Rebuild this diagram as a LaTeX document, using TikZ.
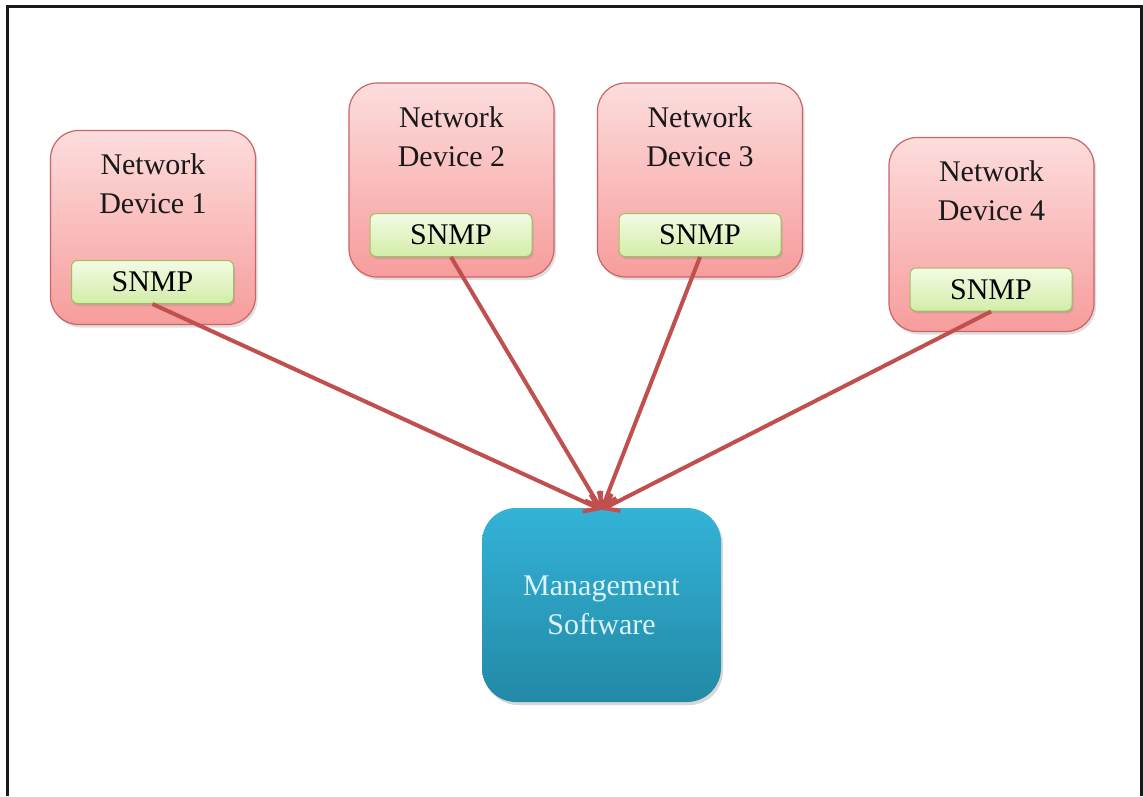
\documentclass[tikz,border=0pt]{standalone}
\usepackage{fontspec}
\setmainfont{Liberation Serif}
\usetikzlibrary{arrows.meta,shadows}
\definecolor{devtop}{HTML}{FDDDDD}
\definecolor{devbot}{HTML}{F79C9C}
\definecolor{devline}{HTML}{C96565}
\definecolor{snmptop}{HTML}{F3FBE4}
\definecolor{snmpbot}{HTML}{D3EDA8}
\definecolor{snmpline}{HTML}{9CBF62}
\definecolor{mtop}{HTML}{33B3D7}
\definecolor{mbot}{HTML}{2389A6}
\definecolor{arr}{HTML}{C0504D}
\definecolor{mtext}{HTML}{DDF3FA}
\tikzset{
  devbox/.style={draw=devline, line width=1.2pt, rounded corners=28pt,
    top color=devtop, bottom color=devbot, minimum width=205pt, minimum height=194pt,
    drop shadow={opacity=0.25, shadow xshift=2pt, shadow yshift=-3pt}},
  snmpbox/.style={draw=snmpline, line width=1pt, rounded corners=6pt,
    top color=snmptop, bottom color=snmpbot, minimum width=162pt, minimum height=43pt,
    font=\fontsize{30}{34}\selectfont, inner sep=0pt,
    drop shadow={opacity=0.25, shadow xshift=1.5pt, shadow yshift=-2.5pt}},
  mbox/.style={rounded corners=34pt, top color=mtop, bottom color=mbot,
    minimum width=239pt, minimum height=194pt, text=mtext, align=center,
    font=\fontsize{30}{39}\selectfont,
    drop shadow={opacity=0.3, shadow xshift=2pt, shadow yshift=-3pt}},
  devtext/.style={align=center, font=\fontsize{30}{39}\selectfont, text=black!90, inner sep=0pt},
  link/.style={draw=arr, line width=4pt,
    -{Straight Barb[length=13pt, width=19pt, line width=4pt]}},
}
\begin{document}
\begin{tikzpicture}[x=1pt,y=-1pt]
\useasboundingbox (0,0) rectangle (1143,796);
\fill[white] (0,0) rectangle (1143,796);
\draw[line width=3pt, black!90] (7,796) -- (7,6) -- (1141,6) -- (1141,796);

\node[devbox] (d1) at (153,227.5) {};
\node[devbox] (d2) at (451.5,180) {};
\node[devbox] (d3) at (700,180) {};
\node[devbox] (d4) at (991.5,234.5) {};

\node[devtext] (t1) at (153,184) {Network\\Device 1};
\node[devtext] (t2) at (451.5,137) {Network\\Device 2};
\node[devtext] (t3) at (700,137) {Network\\Device 3};
\node[devtext] (t4) at (991.5,191) {Network\\Device 4};

\node[snmpbox] (s1) at (152.5,282) {SNMP};
\node[snmpbox] (s2) at (451,235) {SNMP};
\node[snmpbox] (s3) at (700,235) {SNMP};
\node[snmpbox] (s4) at (991,289.5) {SNMP};

\node[mbox] (m) at (601.5,605) {Management\\Software};

\draw[link] (s1.south) -- ([yshift=-2pt]m.north);
\draw[link] (s2.south) -- ([yshift=-2pt]m.north);
\draw[link] (s3.south) -- ([yshift=-2pt]m.north);
\draw[link] (s4.south) -- ([yshift=-2pt]m.north);
\end{tikzpicture}
\end{document}
